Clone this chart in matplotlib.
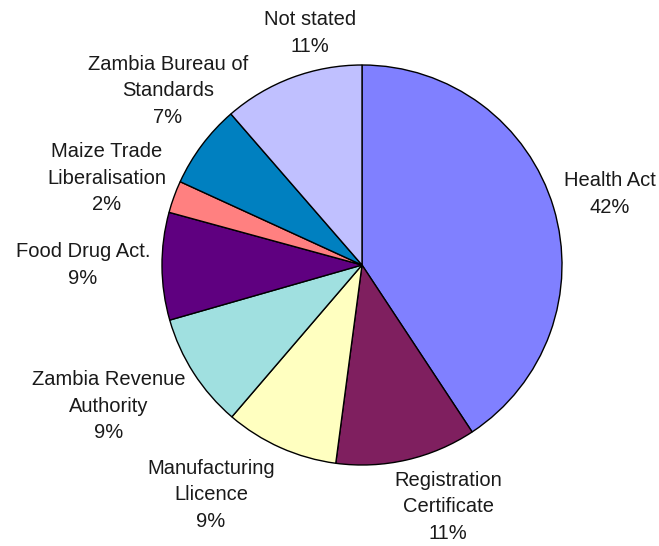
import matplotlib.pyplot as plt

categories = ["Health Act", "Registration\nCertificate", "Manufacturing\nLlicence",
              "Zambia Revenue\nAuthority", "Food Drug Act.", "Maize Trade\nLiberalisation",
              "Zambia Bureau of\nStandards", "Not stated"]
# slice sizes measured from the angles, label percentages as printed
shares = [40.8, 11.4, 9.2, 9.3, 8.7, 2.6, 6.8, 11.4]
pct_labels = [42, 11, 9, 9, 9, 2, 7, 11]
colors = ["#8080FF", "#7F1F5F", "#FFFFC0", "#A0E0E0", "#5F0080", "#FF8080", "#0080C0", "#C0C0FF"]

# label centres in pixels (x, y from top) as placed in the reference
label_px = [(610, 194), (448, 507), (211, 495), (109, 406), (83, 265),
            (107, 178), (168, 91), (310, 33)]

W, H = 659, 546
cx, cy, R = 362, 265, 200

fig = plt.figure(figsize=(W / 100, H / 100), dpi=100)
ax = fig.add_axes([0, 0, 1, 1])

ax.pie(shares, colors=colors, startangle=90, counterclock=False,
       wedgeprops=dict(edgecolor="black", linewidth=1.0))

ax.set_aspect("auto")
ax.set_xlim(-cx / R, (W - cx) / R)
ax.set_ylim(-(H - cy) / R, cy / R)
ax.axis("off")

for name, pct, (px, py) in zip(categories, pct_labels, label_px):
    ax.text((px - cx) / R, (cy - py) / R, f"{name}\n{pct}%",
            ha="center", va="center", fontsize=14.5, linespacing=1.5,
            family="Liberation Sans", color="#1a1a1a")

fig.savefig("out.png", dpi=100)
